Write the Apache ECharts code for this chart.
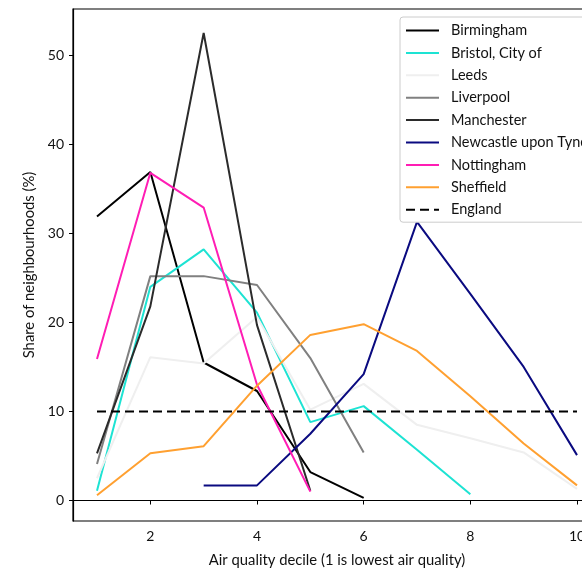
<!DOCTYPE html>
<html>
<head>
<meta charset="utf-8">
<script src="https://cdn.jsdelivr.net/npm/echarts@6/dist/echarts.min.js"></script>
<style>
html,body{margin:0;padding:0;background:#fff;overflow:hidden;width:582px;height:573px;}
#chart{width:640px;height:573px;}
</style>
</head>
<body>
<div id="chart"></div>
<script>
const deciles = [1, 2, 3, 4, 5, 6, 7, 8, 9, 10];
const cityNames = ["Birmingham", "Bristol, City of", "Leeds", "Liverpool", "Manchester", "Newcastle upon Tyne", "Nottingham", "Sheffield"];
const birmingham = [31.9, 36.9, 15.5, 12.3, 3.2, 0.3, null, null, null, null];
const bristol = [1.1, 24.0, 28.2, 21.1, 8.8, 10.6, 5.7, 0.7, null, null];
const leeds = [2.5, 16.1, 15.4, 20.6, 10.2, 13.1, 8.5, 7.0, 5.4, 1.3];
const liverpool = [4.1, 25.2, 25.2, 24.2, 16.0, 5.4, null, null, null, null];
const manchester = [5.3, 21.8, 52.5, 19.7, 1.1, null, null, null, null, null];
const newcastle = [null, null, 1.7, 1.7, 7.5, 14.2, 31.3, 23.2, 15.0, 5.1];
const nottingham = [15.9, 36.8, 32.9, 13.0, 1.0, null, null, null, null, null];
const sheffield = [0.6, 5.3, 6.1, 12.9, 18.6, 19.8, 16.8, 11.7, 6.4, 1.7];
const england = [10, 10, 10, 10, 10, 10, 10, 10, 10, 10];
const englandName = "England";
const xTicks = [2, 4, 6, 8, 10];
const yTicks = [0, 10, 20, 30, 40, 50];
const xTitle = "Air quality decile (1 is lowest air quality)";
const yTitle = "Share of neighbourhoods (%)";

const cityValues = [birmingham, bristol, leeds, liverpool, manchester, newcastle, nottingham, sheffield];
const cityColors = ["#000000", "#1de3d3", "#efefef", "#808080", "#2b2b2b", "#0a0a80", "#ff1db4", "#ffa030"];

function pairs(vals) {
  const out = [];
  vals.forEach((v, i) => { if (v !== null) out.push([deciles[i], v]); });
  return out;
}

const FONT = "Lato, 'DejaVu Sans', sans-serif";
const series = cityNames.map((n, i) => ({
  name: n, type: 'line', data: pairs(cityValues[i]),
  symbol: 'none', showSymbol: false, animation: false,
  lineStyle: { color: cityColors[i], width: 2 },
  itemStyle: { color: cityColors[i] },
  z: 2
}));
series.push({
  name: englandName, type: 'line', data: pairs(england),
  symbol: 'none', showSymbol: false, animation: false,
  lineStyle: { color: '#000', width: 2, type: [9, 5] },
  itemStyle: { color: '#000' },
  z: 3
});

const chart = echarts.init(document.getElementById('chart'), null, { renderer: 'canvas', width: 640, height: 573 });
chart.setOption({
  animation: false,
  backgroundColor: '#fff',
  textStyle: { fontFamily: FONT },
  grid: { left: 73, top: 9, right: 39, bottom: 50, show: true, borderColor: '#000', borderWidth: 1.2, backgroundColor: 'transparent' },
  legend: {
    data: cityNames.concat([englandName]),
    orient: 'vertical', left: 400, top: 17,
    itemWidth: 33, itemHeight: 14, itemGap: 7.4,
    padding: [6, 10, 5, 5],
    backgroundColor: '#fff', borderColor: '#cccccc', borderWidth: 1, borderRadius: 3,
    itemStyle: { color: 'rgba(0,0,0,0)', borderColor: 'rgba(0,0,0,0)', borderWidth: 0, opacity: 0 },
    textStyle: { fontFamily: FONT, fontSize: 14.5, color: '#111', padding: [0, 0, 0, 7] }
  },
  xAxis: {
    type: 'value', min: 0.55, max: 10.45,
    name: xTitle, nameLocation: 'middle', nameGap: 32,
    nameTextStyle: { fontFamily: FONT, fontSize: 14.8, color: '#111' },
    axisLine: { show: true, lineStyle: { color: '#000', width: 1.2 } },
    axisTick: { show: true, customValues: xTicks, length: 4, inside: false, lineStyle: { color: '#000' } },
    axisLabel: { customValues: xTicks, margin: 8, fontFamily: FONT, fontSize: 14, color: '#111' },
    splitLine: { show: false }
  },
  yAxis: {
    type: 'value', min: -2.3, max: 55.2,
    name: yTitle, nameLocation: 'middle', nameGap: 35, nameRotate: 90,
    nameTextStyle: { fontFamily: FONT, fontSize: 14.8, color: '#111' },
    axisLine: { show: true, lineStyle: { color: '#000', width: 1.2 } },
    axisTick: { show: true, customValues: yTicks, length: 4, inside: false, lineStyle: { color: '#000' } },
    axisLabel: { customValues: yTicks, margin: 9, fontFamily: FONT, fontSize: 14, color: '#111' },
    splitLine: { show: false }
  },
  series: series
});
</script>
</body>
</html>
